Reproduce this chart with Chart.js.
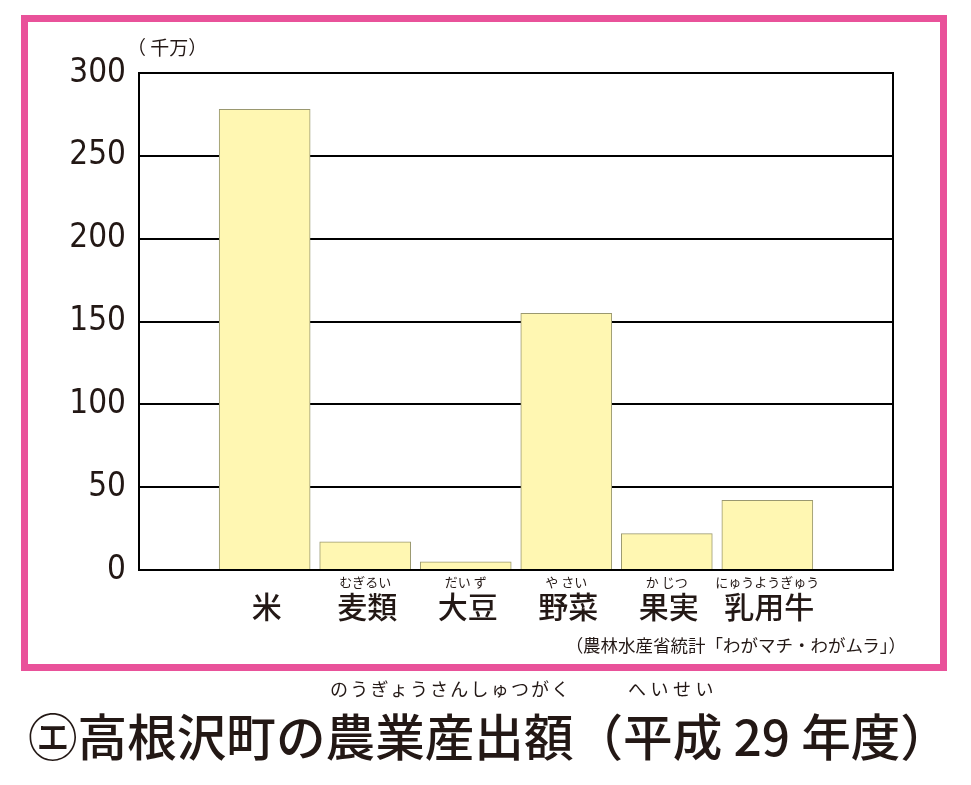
<!DOCTYPE html>
<html lang="ja">
<head>
<meta charset="utf-8">
<title>高根沢町の農業産出額</title>
<script src="https://cdn.jsdelivr.net/npm/chart.js@4.4.1/dist/chart.umd.min.js"></script>
<style>
  html, body { margin: 0; padding: 0; background: #fff; }
  body { width: 971px; height: 785px; position: relative; overflow: hidden;
         font-family: "Noto Sans CJK JP", sans-serif; color: #231815; }
  .frame { position: absolute; left: 21px; top: 15px; width: 926px; height: 656px;
           box-sizing: border-box; border: 7px solid #e9529a; }
  #wrap { position: absolute; left: 0; top: 0; width: 971px; height: 785px; }
  .txt { position: absolute; white-space: nowrap; line-height: 1; }
  .unit { left: 127px; top: 37px; font-size: 19px; }
  .source { right: 65px; top: 636px; font-size: 17.5px; }
  .title { left: 28px; top: 710px; font-size: 49.6px; font-weight: 500; }
  .ruby { top: 679px; font-size: 18px; }
</style>
</head>
<body>
<div class="frame"></div>
<div id="wrap"><canvas id="myChart" width="971" height="785"></canvas></div>
<div class="txt unit">（ 千万）</div>
<div class="txt source">（農林水産省統計「わがマチ・わがムラ」）</div>
<div class="txt ruby" style="left:330px; letter-spacing:2.2px">のうぎょうさんしゅつがく</div>
<div class="txt ruby" style="left:628px; letter-spacing:4.5px">へいせい</div>
<div class="txt title">㋓高根沢町の農業産出額（平成 29 年度）</div>
<script>
// 品目ごとの農業産出額（千万円）
const categories = ['米', '麦類', '大豆', '野菜', '果実', '乳用牛'];
const furigana = ['', 'むぎるい', 'だい ず', 'や さい', 'か じつ', 'にゅうようぎゅう'];
const values = [278, 17, 5, 155, 22, 42];
const yTicks = [0, 50, 100, 150, 200, 250, 300];

const ink = '#231815';

// x軸の品目名（ふりがな付き）
const labelPlugin = {
  id: 'rubyLabels',
  afterDraw(chart) {
    const ctx = chart.ctx;
    const xs = chart.scales.x;
    const bottom = chart.chartArea.bottom;
    ctx.save();
    ctx.fillStyle = ink;
    ctx.textAlign = 'center';
    ctx.textBaseline = 'middle';
    categories.forEach((c, i) => {
      const x = xs.getPixelForValue(i + 1);
      ctx.font = '13px "Noto Sans CJK JP"';
      ctx.fillText(furigana[i], x, bottom + 12);
      ctx.font = '500 30px "Noto Sans CJK JP"';
      ctx.fillText(c, x + 2, bottom + 37);
    });
    ctx.restore();
  }
};

const ctx = document.getElementById('myChart');

new Chart(ctx, {
  type: 'bar',
  data: {
    datasets: [{
      data: categories.map((c, i) => ({ x: i + 1, y: values[i] })),
      backgroundColor: '#fff7b2',
      borderColor: '#9a9870',
      borderWidth: 1,
      barThickness: 91
    }]
  },
  options: {
    responsive: false,
    animation: false,
    devicePixelRatio: 1,
    layout: { padding: { left: 39, right: 78, top: 73, bottom: 215 } },
    plugins: { legend: { display: false }, tooltip: { enabled: false } },
    scales: {
      x: {
        type: 'linear',
        min: -0.25,
        max: 7.25,
        offset: false,
        grid: { display: false },
        ticks: { display: false },
        border: { display: true, color: '#000', width: 2 },
        afterFit: s => { s.height = 0; }
      },
      y: {
        min: 0,
        max: 300,
        afterBuildTicks: s => { s.ticks = yTicks.map(v => ({ value: v })); },
        grid: { color: '#000', lineWidth: 2, drawTicks: false },
        border: { display: true, color: '#000', width: 2 },
        ticks: {
          padding: 13,
          color: ink,
          font: { family: '"DejaVu Sans Condensed", sans-serif', size: 33 }
        },
        afterFit: s => { s.width = 100; }
      },
      y2: {
        position: 'right',
        min: 0,
        max: 300,
        grid: { display: false, drawTicks: false },
        ticks: { display: false },
        border: { display: true, color: '#000', width: 2 },
        afterFit: s => { s.width = 0; }
      }
    }
  },
  plugins: [labelPlugin]
});
</script>
</body>
</html>
